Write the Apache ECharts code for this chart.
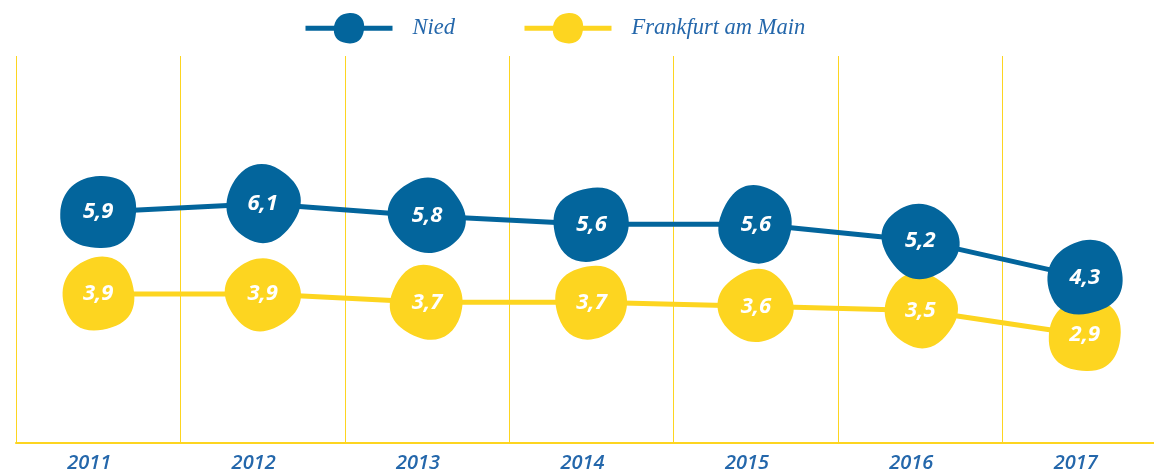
<!DOCTYPE html>
<html>
<head>
<meta charset="utf-8">
<script src="https://cdn.jsdelivr.net/npm/echarts@6/dist/echarts.min.js"></script>
<style>
  html, body { margin: 0; padding: 0; background: #fff; }
  #chart { width: 1154px; height: 473px; }
</style>
</head>
<body>
<div id="chart"></div>
<script>
// data
var years = ["2011", "2012", "2013", "2014", "2015", "2016", "2017"];
var nied = [5.9, 6.1, 5.8, 5.6, 5.6, 5.2, 4.3];
var frankfurt = [3.9, 3.9, 3.7, 3.7, 3.6, 3.5, 2.9];

var BLUE = "#03659c";
var YELLOW = "#fdd520";
var TEXT_BLUE = "#2467ab";

// irregular blob shape for the markers
var blob = "path://M52,3 C80,2 97,20 96,46 C95,74 84,97 52,96 C22,95 3,82 4,52 C5,22 24,4 52,3 Z";
var turns = [0, 60, 130, 200, 250, 310, 20];

function fmt(p) {
  return String(p.value).replace(".", ",");
}

var labelStyle = {
  show: true,
  position: "inside",
  formatter: fmt,
  color: "#fff",
  fontFamily: "Open Sans",
  fontStyle: "italic",
  fontWeight: "bold",
  fontSize: 22
};

var myChart = echarts.init(document.getElementById("chart"));
var option = {
  animation: false,
  legend: {
    data: ["Nied", "Frankfurt am Main"],
    left: 298,
    top: 8,
    itemWidth: 87,
    itemHeight: 38,
    itemGap: 67,
    lineStyle: { width: 5 },
    textStyle: {
      color: TEXT_BLUE,
      fontFamily: "Liberation Serif",
      fontStyle: "italic",
      fontSize: 22.5,
      padding: [0, 0, 0, 15]
    }
  },
  grid: {
    left: 16,
    right: -13,
    top: 56,
    bottom: 30,
    outerBoundsMode: "none"
  },
  xAxis: {
    type: "category",
    data: years,
    boundaryGap: true,
    axisLine: { lineStyle: { color: YELLOW, width: 2 } },
    axisTick: { show: false },
    axisLabel: {
      color: TEXT_BLUE,
      fontFamily: "Open Sans",
      fontStyle: "italic",
      fontWeight: 600,
      fontSize: 20,
      margin: 10,
      padding: [0, 18, 0, 0]
    },
    splitLine: { show: true, lineStyle: { color: YELLOW, width: 1 } }
  },
  yAxis: {
    type: "value",
    min: 0.27,
    max: 9.7,
    show: false,
    splitLine: { show: false }
  },
  series: [
    {
      name: "Nied",
      type: "line",
      data: nied,
      z: 3,
      symbol: blob,
      symbolSize: [76, 72],
      symbolRotate: function (v, p) { return turns[p.dataIndex]; },
      itemStyle: { color: BLUE },
      lineStyle: { color: BLUE, width: 5 },
      label: labelStyle
    },
    {
      name: "Frankfurt am Main",
      type: "line",
      data: frankfurt,
      z: 2,
      symbol: blob,
      symbolSize: [72, 72],
      symbolRotate: function (v, p) { return turns[6 - p.dataIndex]; },
      itemStyle: { color: YELLOW },
      lineStyle: { color: YELLOW, width: 5 },
      label: labelStyle
    }
  ]
};
myChart.setOption(option);
</script>
</body>
</html>
